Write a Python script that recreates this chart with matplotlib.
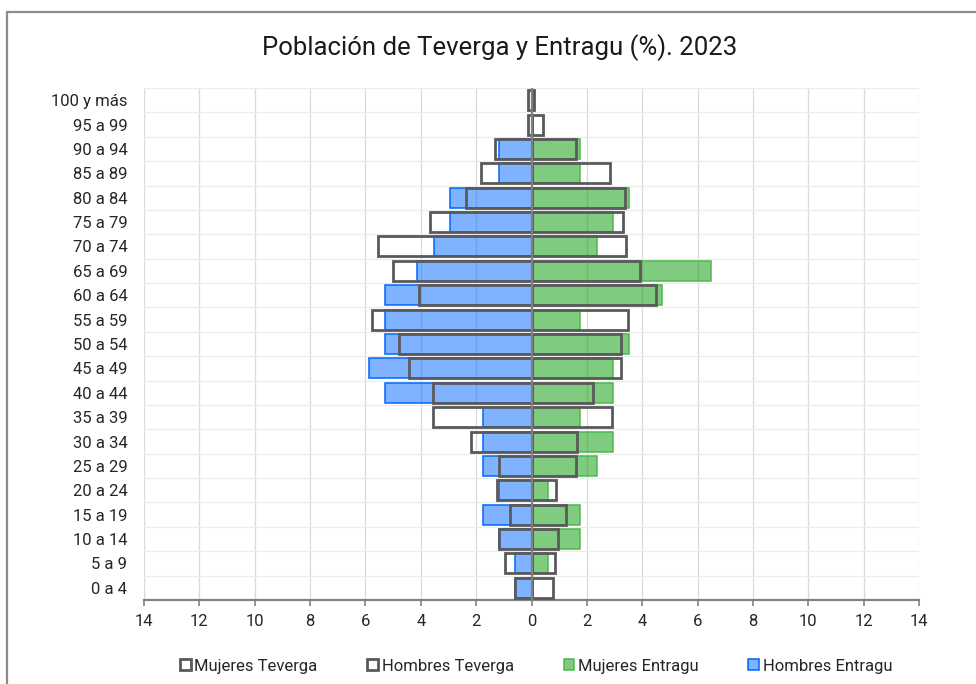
import matplotlib
matplotlib.use("Agg")
import matplotlib.pyplot as plt
import numpy as np
from matplotlib.patches import Patch, Rectangle
from matplotlib.ticker import FixedLocator, FuncFormatter

plt.rcParams['font.family'] = ['Roboto', 'DejaVu Sans']

# Age groups, top to bottom
categories = ["100 y más", "95 a 99", "90 a 94", "85 a 89", "80 a 84", "75 a 79",
              "70 a 74", "65 a 69", "60 a 64", "55 a 59", "50 a 54", "45 a 49",
              "40 a 44", "35 a 39", "30 a 34", "25 a 29", "20 a 24", "15 a 19",
              "10 a 14", "5 a 9", "0 a 4"]

# Percent of population in each group
hombres_teverga = [0.12, 0.13, 1.31, 1.82, 2.38, 3.65, 5.53, 5.01, 4.07, 5.77, 4.77,
                   4.44, 3.56, 3.56, 2.18, 1.18, 1.25, 0.79, 1.16, 0.94, 0.58]
mujeres_teverga = [0.08, 0.41, 1.61, 2.84, 3.36, 3.30, 3.42, 3.93, 4.48, 3.48, 3.22,
                   3.24, 2.22, 2.91, 1.65, 1.59, 0.89, 1.23, 0.95, 0.86, 0.77]
hombres_entragu = [0.0, 0.0, 1.18, 1.18, 2.94, 2.94, 3.53, 4.12, 5.29, 5.29, 5.29,
                   5.88, 5.29, 1.76, 1.76, 1.76, 1.18, 1.76, 1.18, 0.59, 0.59]
mujeres_entragu = [0.0, 0.0, 1.76, 1.76, 3.53, 2.94, 2.35, 6.47, 4.71, 1.76, 3.53,
                   2.94, 2.94, 1.76, 2.94, 2.35, 0.59, 1.76, 1.76, 0.59, 0.0]

x_ticks = [-14, -12, -10, -8, -6, -4, -2, 0, 2, 4, 6, 8, 10, 12, 14]

W, H = 976, 684
fig = plt.figure(figsize=(W / 100, H / 100), dpi=100)

# Outer chart frame
fig.patches.append(Rectangle((7 / W, -0.05), 1.2, 1 - 12 / H + 0.05,
                             transform=fig.transFigure, fill=False,
                             edgecolor='#8c8c8c', linewidth=1.6, zorder=0))

ax = fig.add_axes([144 / W, 1 - 600 / H, (919 - 144) / W, (600 - 88) / H])

y = np.arange(len(categories))
h = 0.82

blue_face = (0.0, 0.4, 1.0, 0.5)
green_face = (0.0, 0.6, 0.0, 0.5)
gray = '#595959'

ax.barh(y, -np.array(hombres_entragu), height=h, color=blue_face,
        edgecolor='#0066ff', linewidth=1.1, zorder=2)
ax.barh(y, mujeres_entragu, height=h, color=green_face,
        edgecolor='#4db84d', linewidth=1.1, zorder=2)
ax.barh(y, -np.array(hombres_teverga), height=h, fill=False,
        edgecolor=gray, linewidth=2.0, zorder=3)
ax.barh(y, mujeres_teverga, height=h, fill=False,
        edgecolor=gray, linewidth=2.0, zorder=3)

ax.axvline(0, color='#808080', linewidth=1.6, zorder=4)

ax.set_xlim(-14, 14)
ax.set_ylim(len(categories) - 0.5, -0.5)

ax.xaxis.set_major_locator(FixedLocator(x_ticks))
ax.xaxis.set_major_formatter(FuncFormatter(lambda v, p: f"{abs(int(round(v)))}"))
ax.set_yticks(y)
ax.set_yticklabels(categories)
ax.yaxis.set_minor_locator(FixedLocator(np.arange(-0.5, len(categories), 1.0)))

ax.grid(axis='x', which='major', color='#d9d9d9', linewidth=0.9, zorder=0)
ax.grid(axis='y', which='minor', color='#ececec', linewidth=0.9, zorder=0)
ax.set_axisbelow(True)

for s in ['top', 'right', 'left']:
    ax.spines[s].set_visible(False)
ax.spines['bottom'].set_color('#808080')
ax.spines['bottom'].set_linewidth(1.6)

ax.tick_params(axis='x', direction='out', length=4, width=1.2, color='#808080',
               labelsize=12, labelcolor='#262626', pad=6)
ax.tick_params(axis='y', which='both', length=0, labelsize=12,
               labelcolor='#262626', pad=12)

fig.text(500 / W, 1 - 48 / H, "Población de Teverga y Entragu (%). 2023",
         ha='center', va='center', fontsize=18.5, color='#1a1a1a')

handles = [
    Patch(facecolor='white', edgecolor=gray, linewidth=2.0, label='Mujeres Teverga'),
    Patch(facecolor='white', edgecolor=gray, linewidth=2.0, label='Hombres Teverga'),
    Patch(facecolor=green_face, edgecolor='#4db84d', linewidth=1.1, label='Mujeres Entragu'),
    Patch(facecolor=blue_face, edgecolor='#0066ff', linewidth=1.1, label='Hombres Entragu'),
]
fig.legend(handles=handles, loc='center', ncol=4,
           bbox_to_anchor=(536 / W, 1 - 666 / H), frameon=False,
           fontsize=12, handlelength=0.65, handleheight=0.65,
           handletextpad=0.2, columnspacing=3.0, labelcolor='#262626')

fig.savefig('out.png', dpi=100)
